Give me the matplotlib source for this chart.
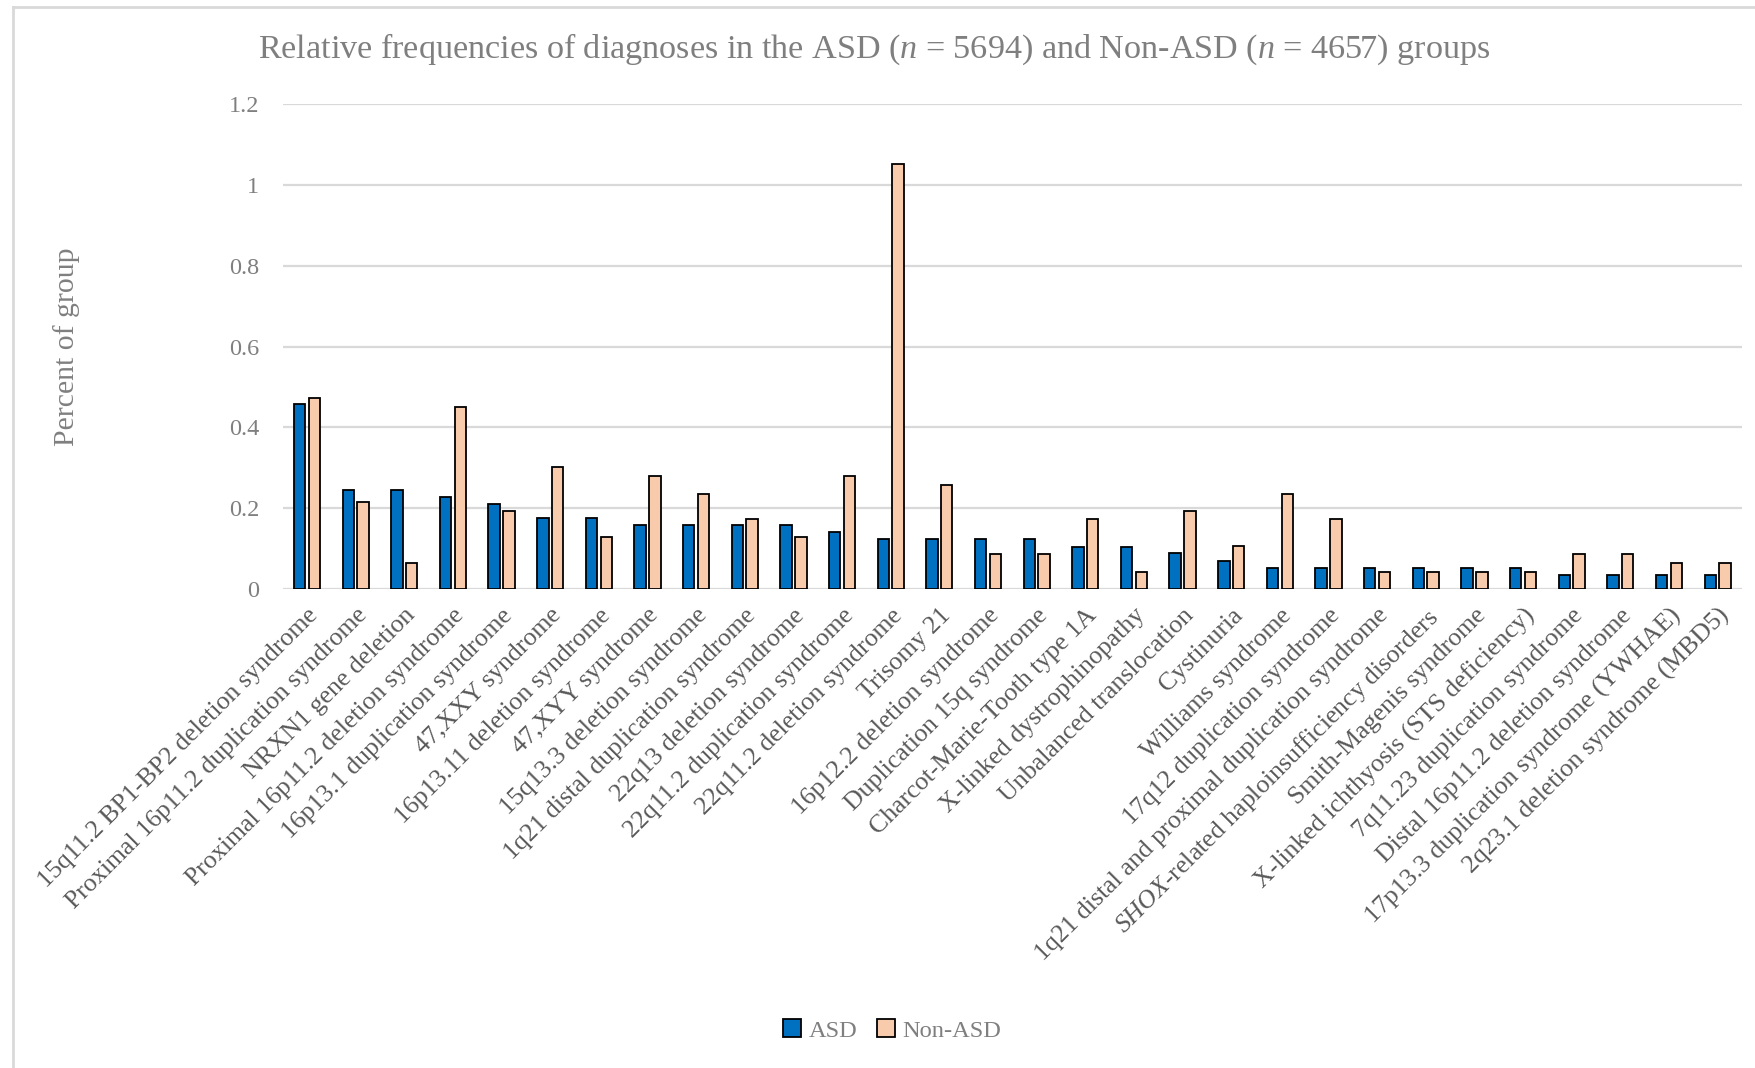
import matplotlib
matplotlib.use("Agg")
import matplotlib.pyplot as plt
import numpy as np
from matplotlib.patches import Patch
from matplotlib.lines import Line2D

categories = [
    "15q11.2 BP1-BP2 deletion syndrome",
    "Proximal 16p11.2 duplication syndrome",
    "NRXN1 gene deletion",
    "Proximal 16p11.2 deletion syndrome",
    "16p13.1 duplication syndrome",
    "47,XXY syndrome",
    "16p13.11 deletion syndrome",
    "47,XYY syndrome",
    "15q13.3 deletion syndrome",
    "1q21 distal duplication syndrome",
    "22q13 deletion syndrome",
    "22q11.2 duplication syndrome",
    "22q11.2 deletion syndrome",
    "Trisomy 21",
    "16p12.2 deletion syndrome",
    "Duplication 15q syndrome",
    "Charcot-Marie-Tooth type 1A",
    "X-linked dystrophinopathy",
    "Unbalanced translocation",
    "Cystinuria",
    "Williams syndrome",
    "17q12 duplication syndrome",
    "1q21 distal and proximal duplication syndrome",
    r"$\mathit{SHOX}$-related haploinsufficiency disorders",
    "Smith-Magenis syndrome",
    "X-linked ichthyosis (STS deficiency)",
    "7q11.23 duplication syndrome",
    "Distal 16p11.2 deletion syndrome",
    "17p13.3 duplication syndrome (YWHAE)",
    "2q23.1 deletion syndrome (MBD5)",
]

asd = [0.457, 0.246, 0.246, 0.228, 0.211, 0.176, 0.176, 0.158, 0.158, 0.158,
       0.158, 0.141, 0.123, 0.123, 0.123, 0.123, 0.105, 0.105, 0.088, 0.070,
       0.053, 0.053, 0.053, 0.053, 0.053, 0.053, 0.035, 0.035, 0.035, 0.035]
non_asd = [0.472, 0.215, 0.064, 0.451, 0.193, 0.301, 0.129, 0.279, 0.236, 0.172,
           0.129, 0.279, 1.052, 0.258, 0.086, 0.086, 0.172, 0.043, 0.193, 0.107,
           0.236, 0.172, 0.043, 0.043, 0.043, 0.043, 0.086, 0.086, 0.064, 0.064]

yticks = [0, 0.2, 0.4, 0.6, 0.8, 1, 1.2]
ytick_labels = ["0", "0.2", "0.4", "0.6", "0.8", "1", "1.2"]

SERIF = "Liberation Serif"
plt.rcParams["font.family"] = [SERIF, "DejaVu Serif"]
plt.rcParams["mathtext.fontset"] = "custom"
plt.rcParams["mathtext.rm"] = SERIF
plt.rcParams["mathtext.it"] = SERIF + ":italic"

C_ASD = "#0070C0"
C_NON = "#F8CBAD"
GRID = "#D9D9D9"

fig = plt.figure(figsize=(17.56, 10.68), dpi=100)
ax = fig.add_axes([0.161, 0.4485, 0.831, 0.4541])

x = np.arange(len(categories))
w = 0.235
off = 0.152
ax.bar(x - off, asd, width=w, color=C_ASD, edgecolor="black", linewidth=1.3, zorder=3, label="ASD")
ax.bar(x + off, non_asd, width=w, color=C_NON, edgecolor="black", linewidth=1.3, zorder=3, label="Non-ASD")

ax.set_xlim(-0.5, len(categories) - 0.5)
ax.set_ylim(0, 1.2)
ax.set_yticks(yticks)
ax.set_yticklabels(ytick_labels)
ax.yaxis.grid(True, color=GRID, linewidth=1.6, zorder=0)
ax.set_axisbelow(True)
for s in ax.spines.values():
    s.set_visible(False)
ax.tick_params(axis="y", length=0, pad=17, labelsize=17.5, labelcolor="#7F7F7F")
ax.tick_params(axis="x", length=0, pad=11)
ax.set_xticks(x)
ax.set_xticklabels(categories, rotation=45, ha="right", rotation_mode="anchor",
                   fontsize=18.6, color="#595959")

fig.text(0.498, 0.954, r"Relative frequencies of diagnoses in the ASD ($\mathit{n}$ = 5694) and Non-ASD ($\mathit{n}$ = 4657) groups",
         ha="center", va="center", fontsize=24.6, color="#7F7F7F")
fig.text(0.038, 0.675, "Percent of group", rotation=90, ha="center", va="center",
         fontsize=21.4, color="#7F7F7F")

handles = [Patch(facecolor=C_ASD, edgecolor="black", linewidth=1.3, label="ASD"),
           Patch(facecolor=C_NON, edgecolor="black", linewidth=1.3, label="Non-ASD")]
leg = fig.legend(handles=handles, loc="center", bbox_to_anchor=(0.508, 0.035), ncol=2,
                 frameon=False, fontsize=17.6, handlelength=0.75, handleheight=0.75,
                 handletextpad=0.3, columnspacing=0.8)
for t in leg.get_texts():
    t.set_color("#7F7F7F")

# outer chart border (top and left visible)
fig.add_artist(Line2D([0.0074, 1.0], [0.9935, 0.9935], transform=fig.transFigure, color=GRID, linewidth=2))
fig.add_artist(Line2D([0.0074, 0.0074], [0.0, 0.9935], transform=fig.transFigure, color=GRID, linewidth=2))

fig.savefig("out.png", dpi=100)
